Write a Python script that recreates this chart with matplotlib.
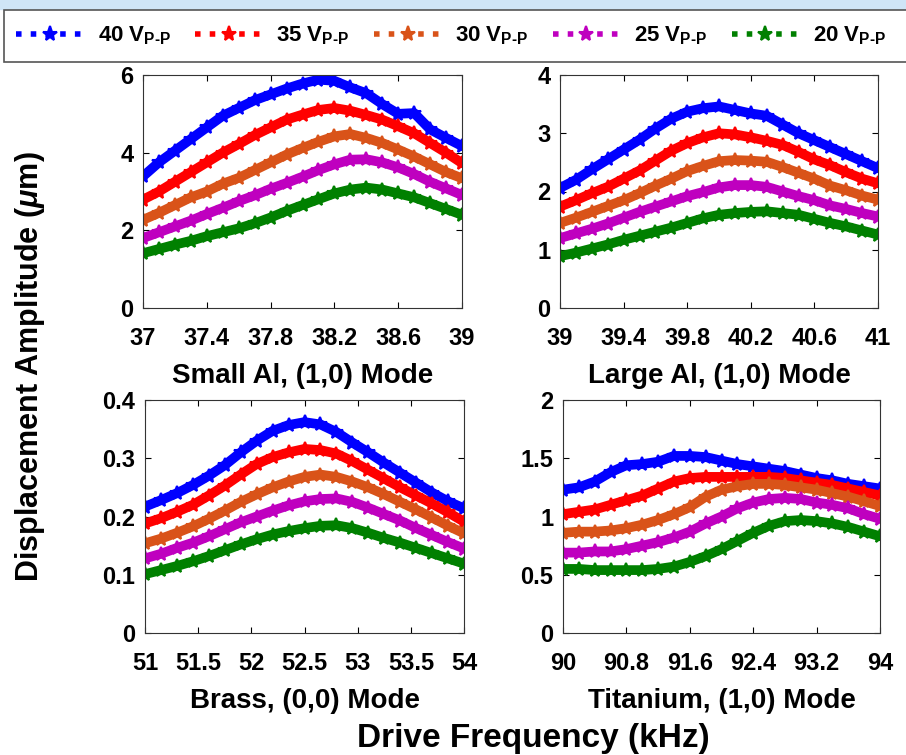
import matplotlib
matplotlib.use("Agg")
import matplotlib.pyplot as plt
from matplotlib.lines import Line2D
from matplotlib.patches import Rectangle
import numpy as np

plt.rcParams['font.family'] = ['Liberation Sans', 'DejaVu Sans']
plt.rcParams['font.weight'] = 'bold'
plt.rcParams['mathtext.fontset'] = 'custom'
plt.rcParams['mathtext.rm'] = 'Liberation Sans:bold'
plt.rcParams['mathtext.bf'] = 'Liberation Sans:bold'
plt.rcParams['mathtext.it'] = 'Liberation Sans:italic'

#==== data
voltages = ['40', '35', '30', '25', '20']
colors = ['#0000ff', '#ff0000', '#d95319', '#bf00bf', '#008000']

# Small Al, (1,0) mode
freq_small_al = np.linspace(37, 39, 21)
small_al = [
    [3.39, 3.75, 4.05, 4.35, 4.65, 4.95, 5.15, 5.35, 5.50, 5.65, 5.78, 5.88, 5.85, 5.68, 5.53, 5.25, 5.00, 5.02, 4.60, 4.38, 4.17],
    [2.79, 3.00, 3.25, 3.50, 3.75, 4.00, 4.22, 4.45, 4.65, 4.85, 4.98, 5.10, 5.15, 5.08, 4.97, 4.85, 4.68, 4.50, 4.25, 4.00, 3.73],
    [2.27, 2.45, 2.65, 2.85, 3.00, 3.20, 3.35, 3.55, 3.75, 3.95, 4.12, 4.28, 4.42, 4.48, 4.38, 4.25, 4.08, 3.90, 3.70, 3.50, 3.34],
    [1.80, 1.95, 2.10, 2.25, 2.42, 2.58, 2.75, 2.90, 3.07, 3.22, 3.38, 3.55, 3.70, 3.82, 3.83, 3.75, 3.62, 3.45, 3.25, 3.08, 2.91],
    [1.41, 1.52, 1.63, 1.73, 1.85, 1.95, 2.05, 2.18, 2.33, 2.50, 2.65, 2.80, 2.95, 3.05, 3.10, 3.05, 2.95, 2.85, 2.70, 2.55, 2.40],
]

# Large Al, (1,0) mode
freq_large_al = np.linspace(39, 41, 21)
large_al = [
    [2.06, 2.20, 2.38, 2.55, 2.72, 2.89, 3.08, 3.25, 3.37, 3.43, 3.46, 3.40, 3.34, 3.30, 3.15, 3.00, 2.88, 2.76, 2.64, 2.52, 2.40],
    [1.74, 1.85, 1.97, 2.08, 2.22, 2.36, 2.53, 2.70, 2.83, 2.93, 3.00, 2.98, 2.93, 2.87, 2.80, 2.68, 2.55, 2.45, 2.33, 2.22, 2.14],
    [1.46, 1.55, 1.65, 1.75, 1.85, 1.97, 2.10, 2.22, 2.35, 2.44, 2.52, 2.54, 2.53, 2.51, 2.42, 2.32, 2.22, 2.10, 2.02, 1.93, 1.86],
    [1.20, 1.28, 1.36, 1.45, 1.55, 1.65, 1.74, 1.83, 1.92, 1.99, 2.07, 2.11, 2.11, 2.08, 2.00, 1.92, 1.85, 1.76, 1.70, 1.63, 1.57],
    [0.89, 0.95, 1.02, 1.09, 1.17, 1.24, 1.31, 1.38, 1.46, 1.54, 1.60, 1.63, 1.65, 1.66, 1.63, 1.60, 1.53, 1.46, 1.40, 1.33, 1.26],
]

# Brass, (0,0) mode
freq_brass = np.linspace(51, 54, 21)
brass = [
    [0.217, 0.228, 0.240, 0.254, 0.270, 0.288, 0.310, 0.330, 0.347, 0.357, 0.362, 0.358, 0.345, 0.327, 0.310, 0.292, 0.275, 0.258, 0.241, 0.226, 0.214],
    [0.188, 0.197, 0.208, 0.220, 0.236, 0.253, 0.272, 0.290, 0.302, 0.310, 0.316, 0.314, 0.308, 0.295, 0.280, 0.265, 0.250, 0.236, 0.222, 0.207, 0.191],
    [0.154, 0.162, 0.172, 0.183, 0.196, 0.210, 0.225, 0.238, 0.250, 0.260, 0.268, 0.272, 0.268, 0.260, 0.250, 0.238, 0.225, 0.212, 0.198, 0.184, 0.171],
    [0.128, 0.136, 0.146, 0.155, 0.166, 0.178, 0.190, 0.200, 0.210, 0.219, 0.226, 0.230, 0.231, 0.225, 0.215, 0.204, 0.193, 0.180, 0.168, 0.156, 0.145],
    [0.101, 0.108, 0.115, 0.123, 0.132, 0.142, 0.152, 0.161, 0.169, 0.175, 0.180, 0.184, 0.185, 0.180, 0.172, 0.163, 0.155, 0.146, 0.137, 0.128, 0.119],
]

# Titanium, (1,0) mode
freq_titanium = np.linspace(90, 94, 21)
titanium = [
    [1.23, 1.25, 1.30, 1.38, 1.44, 1.45, 1.47, 1.52, 1.52, 1.51, 1.48, 1.45, 1.43, 1.41, 1.39, 1.36, 1.33, 1.31, 1.28, 1.26, 1.24],
    [1.02, 1.04, 1.06, 1.10, 1.14, 1.18, 1.24, 1.30, 1.33, 1.34, 1.34, 1.34, 1.34, 1.34, 1.33, 1.31, 1.29, 1.27, 1.24, 1.21, 1.18],
    [0.86, 0.87, 0.87, 0.88, 0.90, 0.93, 0.97, 1.02, 1.08, 1.17, 1.23, 1.26, 1.28, 1.28, 1.27, 1.25, 1.23, 1.20, 1.17, 1.13, 1.09],
    [0.69, 0.69, 0.70, 0.70, 0.72, 0.75, 0.78, 0.82, 0.87, 0.94, 1.00, 1.07, 1.12, 1.15, 1.16, 1.15, 1.12, 1.10, 1.07, 1.02, 0.98],
    [0.55, 0.55, 0.54, 0.54, 0.54, 0.54, 0.55, 0.57, 0.61, 0.66, 0.72, 0.79, 0.86, 0.92, 0.96, 0.97, 0.96, 0.94, 0.91, 0.87, 0.83],
]

panels = [
    (freq_small_al, small_al, 'Small Al, (1,0) Mode', [37, 37.4, 37.8, 38.2, 38.6, 39], ['37', '37.4', '37.8', '38.2', '38.6', '39'], [0, 2, 4, 6], ['0', '2', '4', '6']),
    (freq_large_al, large_al, 'Large Al, (1,0) Mode', [39, 39.4, 39.8, 40.2, 40.6, 41], ['39', '39.4', '39.8', '40.2', '40.6', '41'], [0, 1, 2, 3, 4], ['0', '1', '2', '3', '4']),
    (freq_brass, brass, 'Brass, (0,0) Mode', [51, 51.5, 52, 52.5, 53, 53.5, 54], ['51', '51.5', '52', '52.5', '53', '53.5', '54'], [0, 0.1, 0.2, 0.3, 0.4], ['0', '0.1', '0.2', '0.3', '0.4']),
    (freq_titanium, titanium, 'Titanium, (1,0) Mode', [90, 90.8, 91.6, 92.4, 93.2, 94], ['90', '90.8', '91.6', '92.4', '93.2', '94'], [0, 0.5, 1, 1.5, 2], ['0', '0.5', '1', '1.5', '2']),
]

#==== figure
fig = plt.figure(figsize=(9.06, 7.55), dpi=100)
fig.patches.append(Rectangle((0, 1 - 9/755), 1, 9/755, transform=fig.transFigure, color='#cfe5f7', zorder=0))
# legend frame runs off the right edge
fig.patches.append(Rectangle((4/906, 1 - 62/755), 1.0, 52/755, transform=fig.transFigure,
                             facecolor='white', edgecolor='#555555', lw=1.2, zorder=1))

boxes = [
    [143/906, 1 - 308/755, 319/906, 233/755],
    [560/906, 1 - 308/755, 318/906, 233/755],
    [145/906, 1 - 633/755, 319/906, 233/755],
    [563/906, 1 - 633/755, 317/906, 233/755],
]

for box, (freq, series, title, xt, xtl, yt, ytl) in zip(boxes, panels):
    ax = fig.add_axes(box)
    for vals, c in zip(series, colors):
        ax.plot(freq, vals, '-', color=c, lw=7, marker='*', ms=10, mew=1.5, solid_capstyle='round')
    ax.set_xlim(xt[0], xt[-1])
    ax.set_ylim(yt[0], yt[-1])
    ax.set_xticks(xt)
    ax.set_xticklabels(xtl)
    ax.set_yticks(yt)
    ax.set_yticklabels(ytl)
    ax.tick_params(direction='in', top=True, right=True, length=4, labelsize=17, width=0.8)
    ax.tick_params(axis='x', pad=14)
    ax.tick_params(axis='y', pad=7)
    ax.set_xlabel(title, fontsize=20, fontweight='bold', labelpad=9)
    for s in ax.spines.values():
        s.set_linewidth(0.8)
        s.set_color('#333333')

fig.text(30/906, 1 - 367/755, r'Displacement Amplitude ($\mu$m)', rotation=90, ha='center', va='center', fontsize=22, fontweight='bold')
fig.text(533/906, 1 - 738/755, 'Drive Frequency (kHz)', ha='center', va='center', fontsize=24, fontweight='bold')

handles = [Line2D([], [], color=c, ls=':', lw=4, marker='*', ms=11, mew=1.5) for c in colors]
labels = [v + r' V$_{\text{P-P}}$' for v in voltages]
leg = fig.legend(handles, labels, loc='center left', bbox_to_anchor=(12/906, 1 - 36/755),
                 ncol=5, frameon=False, handlelength=3.0, columnspacing=1.1,
                 handletextpad=0.65, borderpad=0.2, borderaxespad=0, prop={'weight': 'bold', 'size': 16})
leg.set_zorder(2)

plt.savefig('out.png', dpi=100)
